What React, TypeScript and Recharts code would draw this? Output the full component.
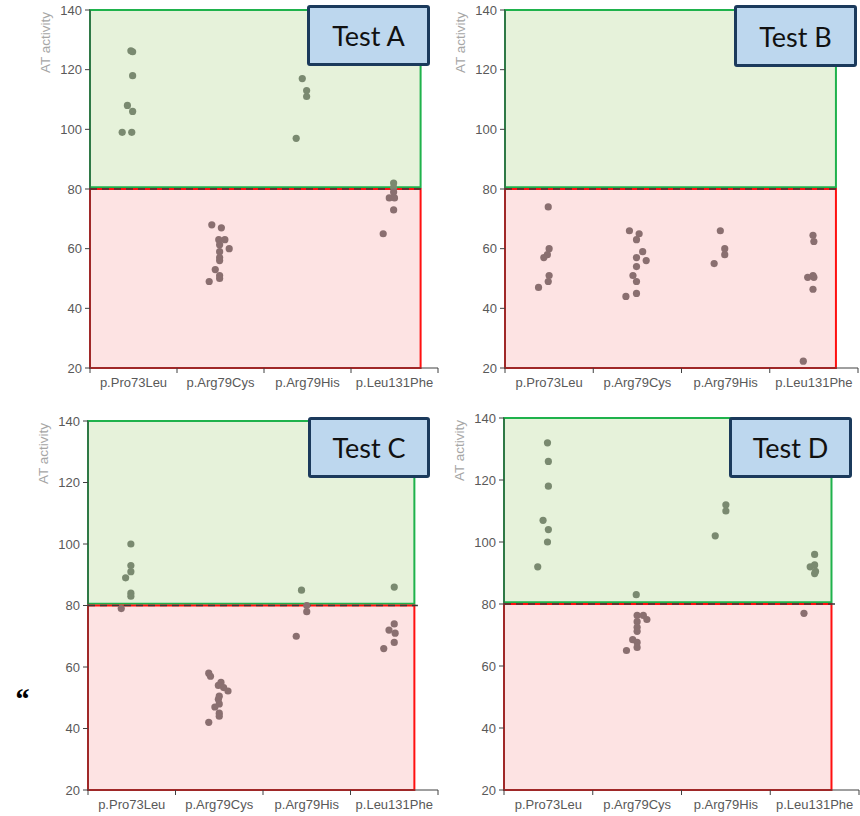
import { ScatterChart, Scatter, XAxis, YAxis, ReferenceArea, ReferenceLine, Label } from 'recharts'

const categories = ['p.Pro73Leu', 'p.Arg79Cys', 'p.Arg79His', 'p.Leu131Phe']
const yTicks = [20, 40, 60, 80, 100, 120, 140]
const xTicks = [0, 1, 2, 3, 4]
const cutoff = 80

// [category index, offset inside category, AT activity]
const testA: [number, number, number][] = [
  [0, 0.49, 126], [0, 0.47, 126.3], [0, 0.49, 118], [0, 0.43, 108], [0, 0.49, 106], [0, 0.37, 99], [0, 0.48, 99],
  [1, 0.4, 68], [1, 0.51, 67], [1, 0.48, 63], [1, 0.55, 63], [1, 0.49, 61.3], [1, 0.6, 60], [1, 0.49, 59],
  [1, 0.49, 57], [1, 0.49, 56], [1, 0.44, 53], [1, 0.49, 51], [1, 0.49, 50], [1, 0.37, 49],
  [2, 0.44, 117], [2, 0.49, 113], [2, 0.49, 111], [2, 0.37, 97],
  [3, 0.49, 82], [3, 0.49, 80.5], [3, 0.49, 79], [3, 0.44, 77], [3, 0.5, 77], [3, 0.49, 73], [3, 0.37, 65],
]

const testB: [number, number, number][] = [
  [0, 0.49, 74], [0, 0.5, 60], [0, 0.48, 58], [0, 0.44, 57], [0, 0.5, 51], [0, 0.49, 49], [0, 0.38, 47],
  [1, 0.41, 66], [1, 0.52, 65], [1, 0.49, 63], [1, 0.56, 59], [1, 0.49, 57], [1, 0.6, 56], [1, 0.49, 54],
  [1, 0.45, 51], [1, 0.49, 49], [1, 0.49, 45], [1, 0.37, 44],
  [2, 0.44, 66], [2, 0.49, 60], [2, 0.49, 58], [2, 0.37, 55],
  [3, 0.49, 64.5], [3, 0.5, 62.4], [3, 0.43, 50.4], [3, 0.49, 51], [3, 0.5, 50.4], [3, 0.49, 46.4], [3, 0.38, 22.3],
]

const testC: [number, number, number][] = [
  [0, 0.49, 100], [0, 0.49, 93], [0, 0.49, 91], [0, 0.43, 89], [0, 0.49, 84], [0, 0.49, 83], [0, 0.38, 79],
  [1, 0.38, 58], [1, 0.4, 57], [1, 0.52, 55], [1, 0.49, 54], [1, 0.55, 53.3], [1, 0.6, 52.2], [1, 0.5, 50.5],
  [1, 0.49, 49.5], [1, 0.5, 48], [1, 0.45, 47], [1, 0.5, 45], [1, 0.5, 44], [1, 0.38, 42],
  [2, 0.44, 85], [2, 0.5, 80], [2, 0.5, 78], [2, 0.38, 70],
  [3, 0.5, 86], [3, 0.5, 74], [3, 0.44, 72], [3, 0.51, 71], [3, 0.5, 68], [3, 0.38, 66],
]

const testD: [number, number, number][] = [
  [0, 0.49, 132], [0, 0.5, 126], [0, 0.5, 118], [0, 0.44, 107], [0, 0.5, 104], [0, 0.49, 100], [0, 0.38, 92],
  [1, 0.49, 83], [1, 0.5, 76.3], [1, 0.57, 76.3], [1, 0.61, 75], [1, 0.5, 74.3], [1, 0.5, 72.5], [1, 0.5, 71.2],
  [1, 0.45, 68.5], [1, 0.5, 67.6], [1, 0.5, 66], [1, 0.38, 65],
  [2, 0.5, 112], [2, 0.5, 110], [2, 0.38, 102],
  [3, 0.5, 96], [3, 0.45, 92], [3, 0.5, 92.6], [3, 0.51, 90.5], [3, 0.5, 89.8], [3, 0.38, 77],
]

const panels = [
  { name: 'Test A', points: testA, left: 0, top: 0, plotW: 348, plotH: 358, zoneEnd: 3.8, box: { left: 307, top: 5, w: 123, h: 61 } },
  { name: 'Test B', points: testB, left: 415, top: 0, plotW: 353, plotH: 358, zoneEnd: 3.75, box: { left: 734, top: 5, w: 123, h: 62 } },
  { name: 'Test C', points: testC, left: -2, top: 411, plotW: 350, plotH: 369, zoneEnd: 3.73, box: { left: 308, top: 417, w: 122, h: 61 } },
  { name: 'Test D', points: testD, left: 414, top: 408, plotW: 355, plotH: 372, zoneEnd: 3.69, box: { left: 729, top: 417, w: 123, h: 61 } },
]

const axisText = '#595959'
const font = '"Liberation Sans", Arial, sans-serif'

function Panel({ p }: { p: typeof panels[number] }) {
  const data = p.points.map(([c, dx, y]) => ({ x: c + dx, y }))
  const half = p.plotW / 8
  return (
    <div style={{ position: 'absolute', left: p.left, top: p.top }}>
      <ScatterChart
        width={90 + p.plotW + 7}
        height={10 + p.plotH + 37}
        margin={{ top: 10, right: 7, left: 50, bottom: 7 }}
      >
        <XAxis
          type="number"
          dataKey="x"
          domain={[0, 4]}
          ticks={xTicks}
          interval={0}
          height={30}
          tickSize={5}
          axisLine={{ stroke: '#404040' }}
          tickLine={{ stroke: '#404040' }}
          tick={({ x, y, payload }: any) =>
            payload.value < 4 ? (
              <text x={x + half} y={y} dy="0.9em" textAnchor="middle" fill={axisText} fontSize={13} fontFamily={font}>
                {categories[payload.value]}
              </text>
            ) : <g />
          }
        />
        <YAxis
          type="number"
          dataKey="y"
          domain={[20, 140]}
          ticks={yTicks}
          interval={0}
          width={40}
          tickSize={5}
          tickMargin={3}
          axisLine={{ stroke: '#404040' }}
          tickLine={{ stroke: '#404040' }}
          tick={{ fill: axisText, fontSize: 13, fontFamily: font }}
        >
          <Label
            content={({ viewBox }: any) => {
              const cx = viewBox.x + viewBox.width - 45
              const cy = viewBox.y + 2
              return (
                <text
                  x={cx}
                  y={cy}
                  dy="0.35em"
                  transform={`rotate(-90 ${cx} ${cy})`}
                  textAnchor="end"
                  fill="#a6a6a6"
                  fontSize={13.5}
                  fontFamily={font}
                >
                  AT activity
                </text>
              )
            }}
          />
        </YAxis>
        <ReferenceArea x1={0} x2={p.zoneEnd} y1={80.6} y2={140} fill="#e6f2da" fillOpacity={1} stroke="#1fb24c" strokeWidth={2} />
        <ReferenceArea x1={0} x2={p.zoneEnd} y1={20} y2={cutoff} fill="#fde3e3" fillOpacity={1} stroke="#ff1010" strokeWidth={2} />
        <ReferenceLine
          segment={[{ x: 0, y: cutoff }, { x: p.zoneEnd + 0.04, y: cutoff }]}
          stroke="#3a3a3a"
          strokeWidth={1.5}
          strokeDasharray="7 5"
        />
        <Scatter
          data={data}
          isAnimationActive={false}
          shape={(s: any) => (
            <circle cx={s.cx} cy={s.cy} r={3.6} fill={s.payload.y > 80.4 ? '#7a8a70' : '#8a6f70'} />
          )}
        />
      </ScatterChart>
      <div
        style={{
          position: 'absolute',
          left: p.box.left - p.left,
          top: p.box.top - p.top,
          width: p.box.w,
          height: p.box.h,
          boxSizing: 'border-box',
          background: '#bdd7ee',
          border: '3px solid #1b3a5c',
          borderRadius: 3,
          display: 'flex',
          alignItems: 'center',
          justifyContent: 'center',
          fontFamily: 'Lato, "Open Sans", sans-serif',
          fontSize: 27,
          color: '#111',
        }}
      >
        {p.name}
      </div>
    </div>
  )
}

export default function App() {
  return (
    <div style={{ position: 'absolute', left: 0, top: 0, width: 860, height: 816, background: '#fff' }}>
      {panels.map((p) => (
        <Panel key={p.name} p={p} />
      ))}
      <div style={{ position: 'absolute', left: 14, top: 682, fontSize: 30, fontStyle: 'italic', fontWeight: 700, fontFamily: '"Liberation Serif", serif' }}>
        “
      </div>
    </div>
  )
}
